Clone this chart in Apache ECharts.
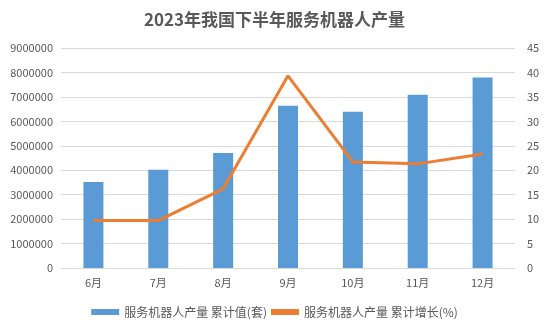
<!DOCTYPE html>
<html><head><meta charset="utf-8">
<script src="https://cdn.jsdelivr.net/npm/echarts@6/dist/echarts.min.js"></script>
<style>html,body{margin:0;padding:0;background:#fff}#c{width:549px;height:329px}</style>
</head><body><div id="c"></div>
<script>
const categories = ['6月','7月','8月','9月','10月','11月','12月'];
const cumValue = [3520000, 4020000, 4700000, 6640000, 6390000, 7090000, 7790000];
const cumGrowth = [9.7, 9.7, 16.2, 39.3, 21.7, 21.3, 23.3];
const leftTicks = {min: 0, max: 9000000, interval: 1000000};
const rightTicks = {min: 0, max: 45, interval: 5};

const font = '"Noto Sans CJK SC", "Microsoft YaHei", sans-serif';
const chart = echarts.init(document.getElementById('c'));
chart.setOption({
  animation: false,
  textStyle: {fontFamily: font},
  title: {text: '2023年我国下半年服务机器人产量', left: 'center', top: 6,
    textStyle: {fontSize: 17, fontWeight: 'bold', color: '#595959', fontFamily: font}},
  grid: {left: 61, right: 34, top: 48, bottom: 61},
  legend: {bottom: 6, itemGap: 4, itemWidth: 28, itemHeight: 6,
    textStyle: {fontSize: 12, color: '#595959', fontFamily: font},
    data: [{name: '服务机器人产量 累计值(套)', icon: 'rect'}, {name: '服务机器人产量 累计增长(%)', icon: 'rect'}]},
  xAxis: {type: 'category', data: categories,
    axisLine: {lineStyle: {color: '#d9d9d9'}}, axisTick: {show: false},
    axisLabel: {color: '#595959', fontSize: 11, margin: 9}},
  yAxis: [
    {type: 'value', min: leftTicks.min, max: leftTicks.max, interval: leftTicks.interval,
      axisLine: {show: false}, axisTick: {show: false},
      axisLabel: {color: '#595959', fontSize: 11, margin: 8, formatter: v => String(v)},
      splitLine: {lineStyle: {color: '#d9d9d9'}}},
    {type: 'value', min: rightTicks.min, max: rightTicks.max, interval: rightTicks.interval,
      axisLine: {show: false}, axisTick: {show: false},
      axisLabel: {color: '#595959', fontSize: 11, margin: 12},
      splitLine: {show: false}}
  ],
  series: [
    {name: '服务机器人产量 累计值(套)', type: 'bar', data: cumValue, barWidth: 20,
      itemStyle: {color: '#5B9BD5'}},
    {name: '服务机器人产量 累计增长(%)', type: 'line', yAxisIndex: 1, data: cumGrowth,
      symbol: 'none', lineStyle: {color: '#ED7D31', width: 3}, itemStyle: {color: '#ED7D31'}}
  ]
});
</script></body></html>
